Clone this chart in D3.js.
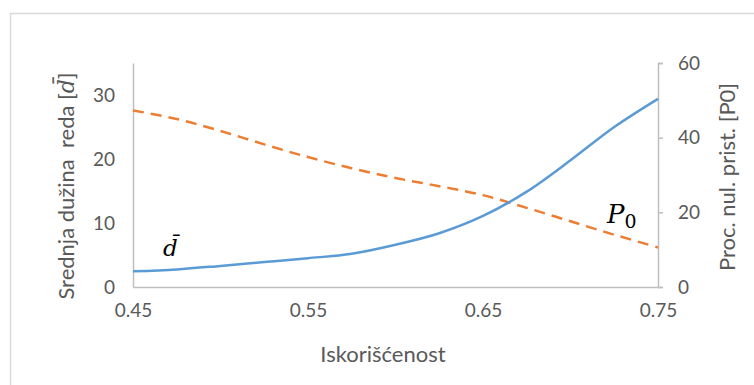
<!DOCTYPE html>
<html>
<head>
<meta charset="utf-8">
<script src="https://cdn.jsdelivr.net/npm/d3@7"></script>
<style>
  body { margin: 0; background: #fff; }
</style>
</head>
<body>
<svg id="chart" width="754" height="385"></svg>
<script>
// values
const iskoriscenost = [0.45, 0.475, 0.50, 0.525, 0.55, 0.575, 0.60, 0.625, 0.65, 0.675, 0.70, 0.725, 0.75]
const srednjaDuzina = [2.45, 2.75, 3.3, 3.9, 4.5, 5.2, 6.6, 8.4, 11.1, 14.9, 19.8, 25.0, 29.4]
const procNulPrist = [47.3, 45.0, 41.8, 38.2, 34.8, 31.8, 29.2, 27.0, 24.6, 21.2, 17.6, 14.0, 10.6]
const xTicks = [0.45, 0.55, 0.65, 0.75]
const leftTicks = [0, 10, 20, 30]
const rightTicks = [0, 20, 40, 60]

const sans = "Lato, 'Open Sans', sans-serif"
const serif = "'DejaVu Serif', 'Liberation Serif', serif"
const grey = "#595959"

let svg = d3.select("#chart")

// outer chart frame
svg.append("rect")
  .attr("x", 10.5).attr("y", 13.5)
  .attr("width", 760).attr("height", 400)
  .attr("fill", "none").attr("stroke", "#d9d9d9").attr("stroke-width", 1.5)

let x = d3.scaleLinear().domain([0.45, 0.75]).range([133, 658])
let yL = d3.scaleLinear().domain([0, 35]).range([287, 63])
let yR = d3.scaleLinear().domain([0, 60]).range([287, 63])

let styleAxis = (g) => {
  g.select(".domain").attr("stroke", "#bfbfbf").attr("stroke-width", 1.5)
  g.selectAll(".tick line").attr("stroke", "#bfbfbf").attr("stroke-width", 1.5)
  g.selectAll("text").style("font-family", sans).style("font-size", "19px").style("fill", grey)
}

// left axis
svg.append("g")
  .attr("transform", "translate(133,0)")
  .call(d3.axisLeft(yL).tickValues(leftTicks).tickSize(0).tickPadding(18))
  .call(styleAxis)

// right axis
svg.append("g")
  .attr("transform", "translate(658,0)")
  .call(d3.axisRight(yR).tickValues(rightTicks).tickSize(5).tickSizeOuter(5).tickPadding(15))
  .call(styleAxis)

// bottom axis
svg.append("g")
  .attr("transform", "translate(0,287)")
  .call(d3.axisBottom(x).tickValues(xTicks).tickFormat(d3.format(".2f")).tickSize(0).tickPadding(17))
  .call(styleAxis)

// lines
let lineL = d3.line()
  .x((d, i) => x(iskoriscenost[i]))
  .y((d) => yL(d))
  .curve(d3.curveCatmullRom.alpha(0.5))

let lineR = d3.line()
  .x((d, i) => x(iskoriscenost[i]))
  .y((d) => yR(d))
  .curve(d3.curveCatmullRom.alpha(0.5))

svg.append("path")
  .datum(procNulPrist)
  .attr("d", lineR)
  .attr("fill", "none")
  .attr("stroke", "#ed7d31")
  .attr("stroke-width", 2.5)
  .attr("stroke-dasharray", "11,7")

svg.append("path")
  .datum(srednjaDuzina)
  .attr("d", lineL)
  .attr("fill", "none")
  .attr("stroke", "#5b9bd5")
  .attr("stroke-width", 2.5)

// series labels
svg.append("text")
  .attr("x", 163).attr("y", 256)
  .style("font-family", serif)
  .style("font-style", "italic")
  .style("font-size", "23px")
  .style("fill", "#000")
  .text("d\u0304")

let p0 = svg.append("text")
  .attr("x", 607).attr("y", 223)
  .style("font-family", serif)
  .style("font-size", "26px")
  .style("fill", "#000")
p0.append("tspan").style("font-style", "italic").text("P")
p0.append("tspan").style("font-size", "19px").attr("dy", 5).text("0")

// axis titles
let title = (t) => t.style("font-family", sans).style("font-size", "22px").style("fill", grey)
  .attr("text-anchor", "middle")

svg.append("text")
  .attr("transform", "translate(383,362)")
  .call(title)
  .text("Iskorišćenost")

let tl = svg.append("text")
  .attr("transform", "translate(74,186) rotate(-90)")
  .call(title)
tl.append("tspan").text("Srednja dužina\u00a0\u00a0reda [")
tl.append("tspan").style("font-style", "italic").style("font-family", serif).text("d\u0304")
tl.append("tspan").text("]")

svg.append("text")
  .attr("transform", "translate(735,177) rotate(-90)")
  .call(title)
  .text("Proc. nul. prist. [P0]")
</script>
</body>
</html>
